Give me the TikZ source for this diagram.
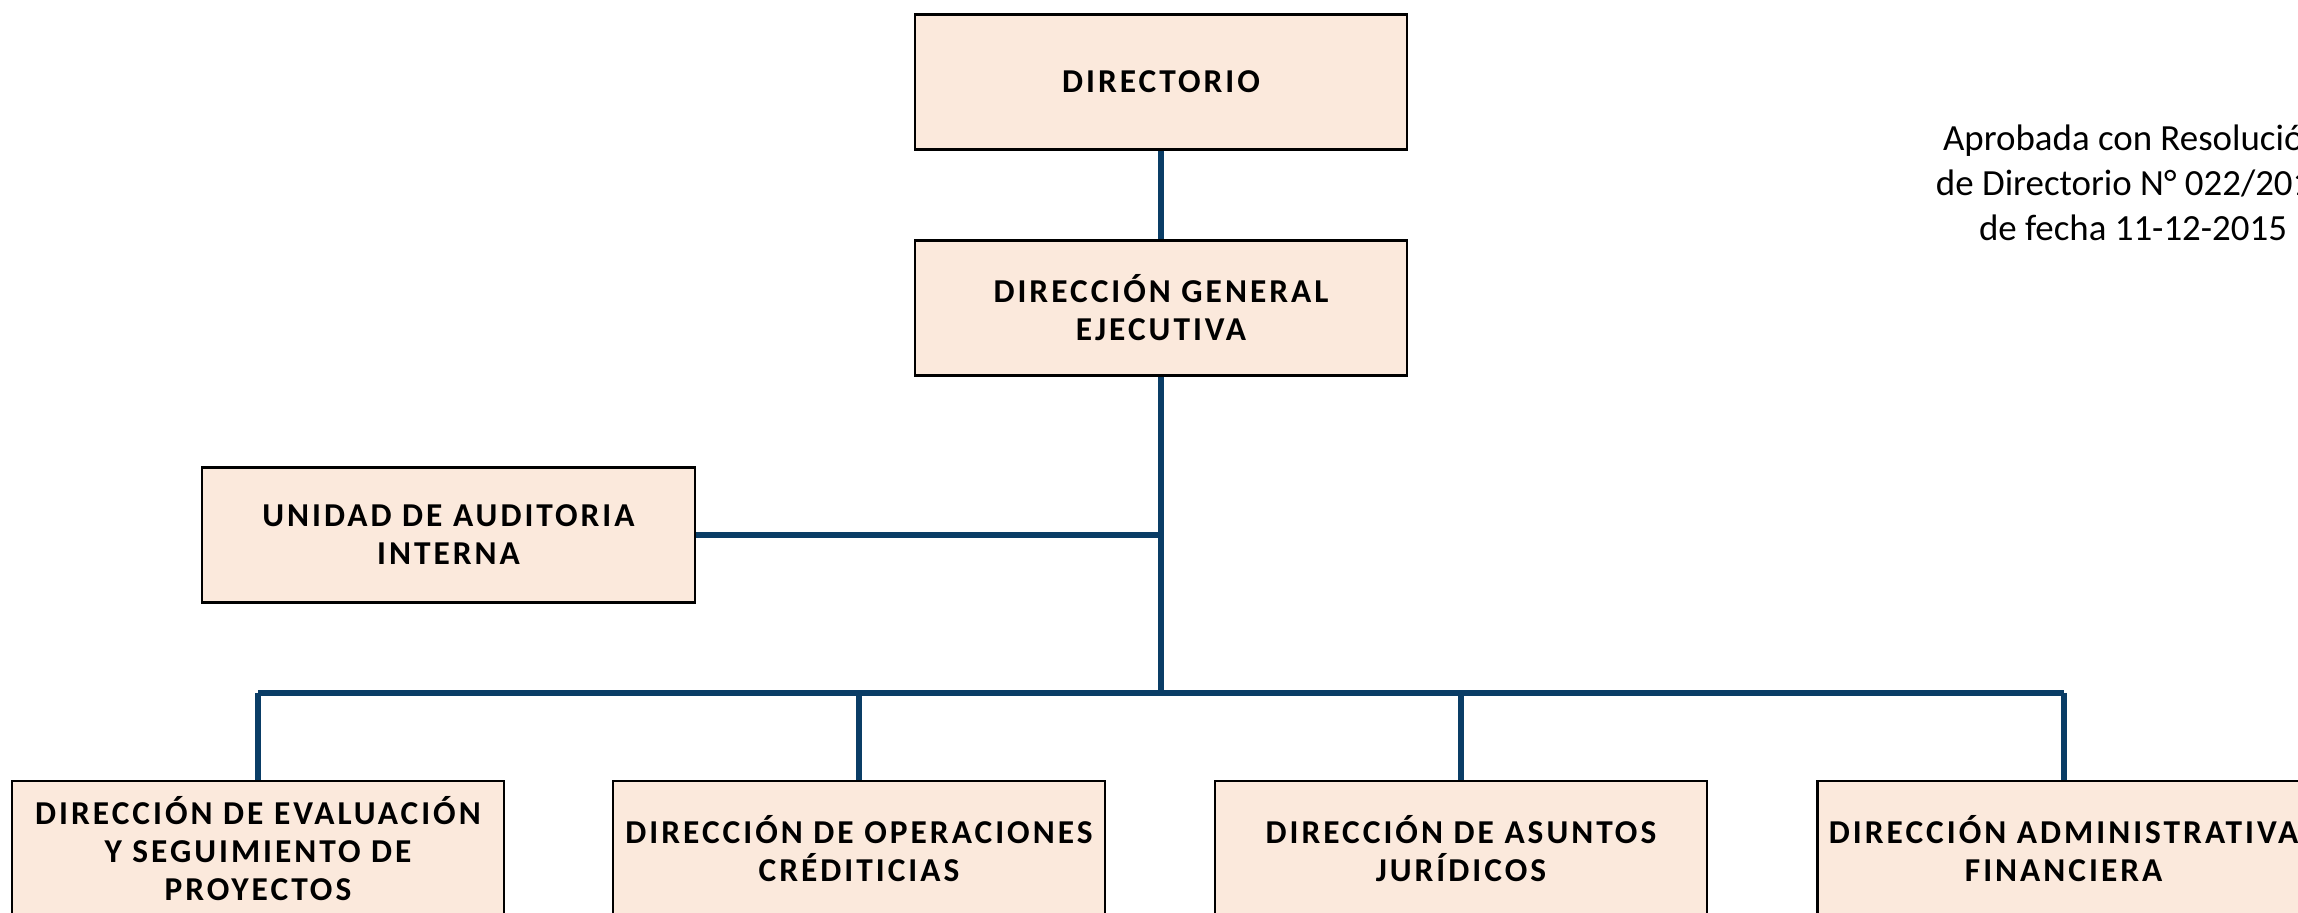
\documentclass[tikz,border=0pt]{standalone}
\usepackage{fontspec}
\setmainfont{Carlito}
\newfontfamily\cajafont[LetterSpace=9]{Carlito}
\definecolor{linea}{RGB}{10,61,102}
\definecolor{caja}{RGB}{251,233,220}
\tikzset{
  unidad/.style={draw=black, line width=0.65pt, fill=caja, minimum width=4.925cm, minimum height=1.35cm,
    align=center, font=\cajafont\fontsize{9.5}{10.8}\selectfont\bfseries, inner sep=1pt},
  enlace/.style={draw=linea, line width=1.7pt}
}
\begin{document}
\begin{tikzpicture}
	\useasboundingbox (0,0) rectangle (22.98,9.12);
	\node[unidad] (dir) at (11.61,8.30) {DIRECTORIO};
	\node[unidad] (dge) at (11.61,6.04) {DIRECCIÓN GENERAL\\EJECUTIVA};
	\node[unidad] (uai) at (4.485,3.77) {UNIDAD DE AUDITORIA\\INTERNA};
	\node[unidad] (dep) at (2.58,0.635) {DIRECCIÓN DE EVALUACIÓN\\Y SEGUIMIENTO DE\\PROYECTOS};
	\node[unidad] (doc) at (8.59,0.635) {DIRECCIÓN DE OPERACIONES\\CRÉDITICIAS};
	\node[unidad] (daj) at (14.61,0.635) {DIRECCIÓN DE ASUNTOS\\JURÍDICOS};
	\node[unidad] (daf) at (20.636,0.635) {DIRECCIÓN ADMINISTRATIVA\\FINANCIERA};
	\node[align=center, font=\fontsize{10.5}{12.8}\selectfont] (nota) at (21.33,7.29) {Aprobada con Resolución\\de Directorio N° 022/2015\\de fecha 11-12-2015};
	\coordinate (bus) at (11.61,2.19);
	\draw[enlace] (dir) -- (dge);
	\draw[enlace] (dge) -- (bus);
	\draw[enlace] (uai.east) -- (uai.east -| dge.south);
	\draw[enlace] (dep.north |- bus) -- (daf.north |- bus);
	\foreach \d in {dep,doc,daj,daf}
	{\draw[enlace] (\d.north |- bus) -- (\d.north);}
\end{tikzpicture}
\end{document}
